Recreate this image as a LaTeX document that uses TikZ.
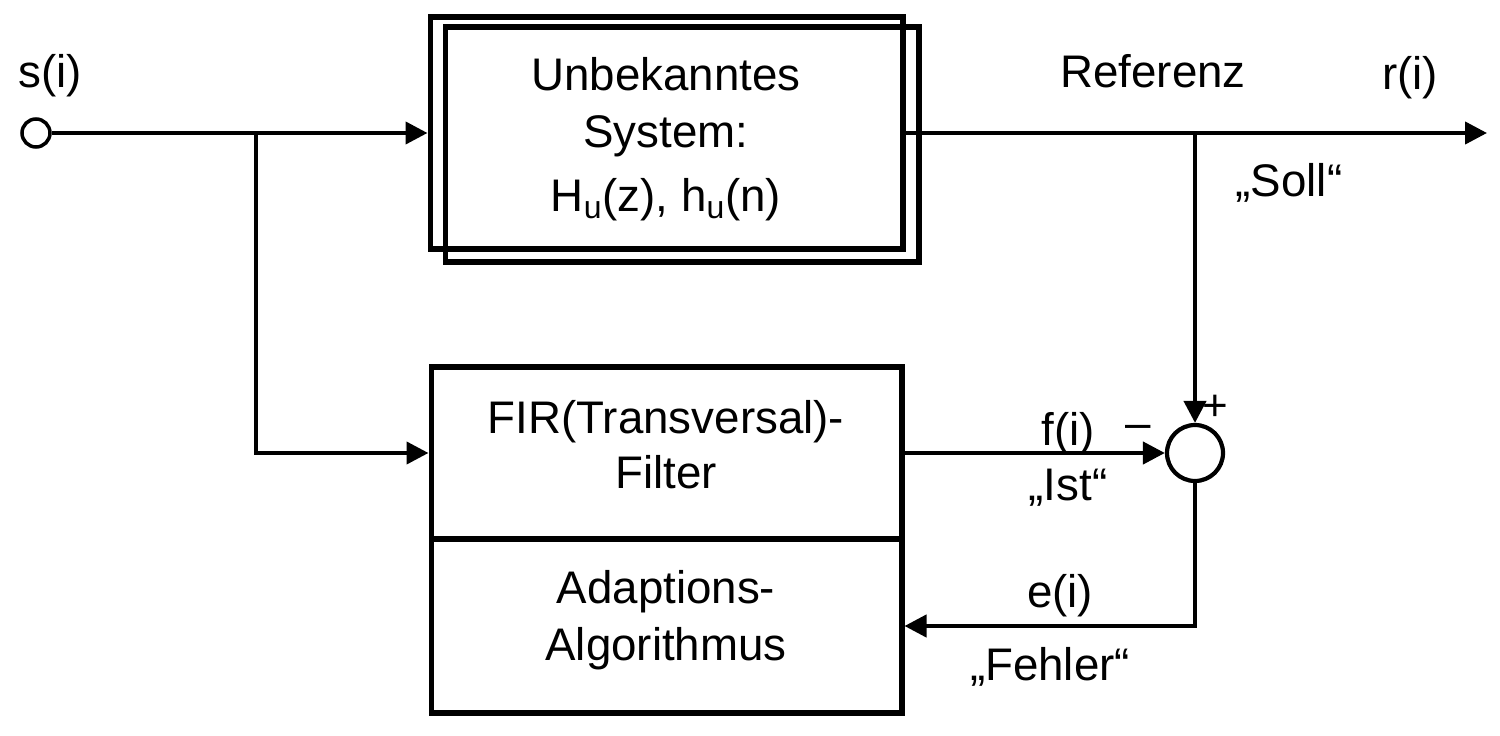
\documentclass[tikz,border=0pt]{standalone}
\usepackage{fontspec}
\setmainfont{Liberation Sans}
\usetikzlibrary{arrows.meta}
\begin{document}
\begin{tikzpicture}[x=0.02cm,y=-0.02cm,
  box/.style={draw, line width=2.9pt, inner sep=0pt},
  conn/.style={line width=2.4pt},
  arr/.style={conn, -{Triangle[length=0.44cm,width=0.44cm]}},
  txt/.style={font=\fontsize{26}{31}\selectfont, inner sep=0pt, anchor=base},
  sign/.style={font=\fontsize{25}{30}\selectfont, inner sep=0pt, anchor=base},
]
\useasboundingbox (0,0) rectangle (1500,736);
% boxes
\node[box, minimum width=9.48cm, minimum height=4.7cm] (unkb) at (682,144.5) {};
\node[box, minimum width=9.46cm, minimum height=4.64cm] (unk) at (666.5,133) {};
\node[box, minimum width=9.42cm, minimum height=3.44cm] (fir) at (666.5,453) {};
\node[box, minimum width=9.42cm, minimum height=3.48cm] (adapt) at (666.5,626) {};
% circles
\node[draw, circle, line width=2pt, minimum size=0.56cm, inner sep=0pt] (in) at (36,133) {};
\node[draw, circle, line width=2.4pt, minimum size=1.12cm, inner sep=0pt] (sum) at (1195,453) {};
% coordinates
\coordinate (b1) at (256,133);
\coordinate (b2) at (1195,133);
\coordinate (out) at (1487,133);
% connectors
\draw[arr] (in.east) -- (unk.west);
\draw[arr] (b1) |- (fir.west);
\draw[arr] (unk.east) -- (out);
\draw[arr] (b2) -- (sum.north);
\draw[arr] (fir.east) -- (sum.west);
\draw[arr] (sum.south) |- (adapt.east);
% texts
\node[txt] (t1) at (666,91) {Unbekanntes};
\node[txt] (t2) at (666,148) {System:};
\node[txt] (t3) at (666,212) {H\textsubscript{u}(z), h\textsubscript{u}(n)};
\node[txt] (t4) at (666,433) {FIR(Transversal)-};
\node[txt] (t5) at (666,488) {Filter};
\node[txt] (t6) at (666,603) {Adaptions-};
\node[txt] (t7) at (666,660) {Algorithmus};
\node[txt] (ls) at (50,88) {s(i)};
\node[txt] (lref) at (1153,88) {Referenz};
\node[txt] (lr) at (1410,90) {r(i)};
\node[txt] (lsoll) at (1289,197) {„Soll“};
\node[txt] (lf) at (1068,445) {f(i)};
\node[txt] (list) at (1068,500) {„Ist“};
\node[txt] (le) at (1060,607) {e(i)};
\node[txt] (lfehler) at (1050,680) {„Fehler“};
\node[txt] (lminus) at (1138,438) {–};
\node[sign] (lplus) at (1215,420) {+};
\end{tikzpicture}
\end{document}
